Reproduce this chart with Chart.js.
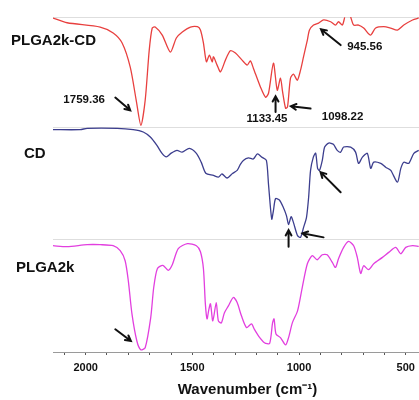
<!doctype html>
<html lang="en">

<head>
  <meta charset="utf-8">
  <title>FTIR PLGA2k-CD</title>
  <script src="https://cdn.jsdelivr.net/npm/chart.js"></script>
  <style>
    html, body { margin: 0; padding: 0; overflow: hidden; background: #fff; }
  </style>
</head>

<body>
  <!-- the figure is cropped on the right, so the canvas is a bit wider than the window -->
  <canvas id="ftirChart" width="442" height="400"></canvas>

  <script>
    // wavenumber (cm-1) and transmittance (% of its band) for each spectrum
    const wnPlgaCd = [2153, 2087, 1932, 1871, 1829, 1791, 1763, 1741, 1721, 1702, 1688, 1674, 1641, 1603, 1575, 1547, 1509, 1476, 1462, 1448, 1434, 1420, 1407, 1401, 1384, 1368, 1345, 1322, 1298, 1267, 1243, 1228, 1214, 1181, 1157, 1143, 1120, 1102, 1087, 1077, 1063, 1054, 1040, 1026, 1008, 993, 979, 961, 951, 932, 908, 885, 852, 829, 815, 797, 786, 772, 758, 744, 721, 697, 665, 641, 603, 571, 539, 509, 468, 439];
    const tPlgaCd = [99.1, 94.8, 90.9, 85.5, 76.4, 54.5, 24.5, 1.8, 24.5, 70, 90, 91, 83.6, 68.2, 81, 86.4, 90.9, 91.2, 88.2, 76.4, 59.4, 65.5, 59.4, 63.9, 56.4, 50.3, 60.9, 69.4, 67.3, 60.9, 56.4, 60.3, 53.6, 36.6, 27.3, 30.9, 58.2, 33.6, 44.5, 32.1, 17.3, 18.5, 44.5, 48.2, 42.7, 51.8, 63.9, 79.1, 88.2, 92.7, 94.5, 97.3, 95.7, 92.7, 95.7, 92.7, 99.7, null, 100, 92.7, 92.7, 90, 83.6, 90, 91.2, 90, 88.2, 92.7, 97.3, 99.1];

    const wnCd = [2153, 2026, 1993, 1852, 1777, 1730, 1697, 1666, 1642, 1622, 1599, 1572, 1548, 1514, 1481, 1458, 1437, 1401, 1378, 1361, 1337, 1312, 1290, 1275, 1261, 1237, 1214, 1195, 1173, 1153, 1143, 1128, 1120, 1110, 1092, 1074, 1059, 1049, 1037, 1026, 1007, 993, 979, 965, 955, 946, 933, 922, 913, 904, 891, 880, 861, 839, 821, 805, 791, 758, 735, 721, 703, 680, 664, 650, 617, 594, 570, 539, 523, 509, 486, 462, 439];
    const tCd = [97.9, 97.9, 99.1, 99.1, 97.9, 95.8, 91.3, 83.8, 76.6, 73.4, 76.8, 79.3, 77.7, 81.1, 76.6, 68.5, 58.8, 56.8, 55.2, 58.1, 54.5, 58.6, 61.3, 66.7, 70.3, 72.5, 71.6, 76.1, 73, 70.3, 48.6, 17.6, 25.2, 36, 34.7, 28.2, 20.7, 12.6, 19.8, 14.4, 2.7, 1.2, 9.9, 19.2, 37.2, 61.3, 73.2, 76.8, 63.1, 61.3, 70.3, 82.3, 85.9, 84.7, 79.3, 77.7, 82.3, 82.3, 77.7, 67.6, 73.2, 76.6, 63.1, 68.7, 67.6, 64.2, 61.3, 50.7, 63.1, 68.7, 67.6, 76.6, 79.3];

    const wnPlga = [2153, 2087, 1993, 1932, 1871, 1838, 1815, 1800, 1783, 1760, 1742, 1721, 1695, 1681, 1664, 1638, 1613, 1594, 1566, 1523, 1481, 1462, 1448, 1439, 1431, 1423, 1415, 1404, 1388, 1378, 1364, 1350, 1331, 1308, 1290, 1270, 1246, 1223, 1209, 1190, 1162, 1138, 1124, 1117, 1108, 1087, 1063, 1049, 1031, 1007, 985, 961, 938, 915, 891, 868, 844, 829, 815, 791, 768, 744, 727, 711, 697, 674, 650, 609, 580, 547, 523, 500, 468, 439];
    const tPlga = [93.8, 92.9, 94.7, 94.7, 93.8, 89.4, 80.5, 62.8, 33.6, 9.7, 2, 3.8, 30.4, 56.9, 73.5, 76.5, 72.1, 77, 91.2, 95.6, 93.8, 88.5, 73.5, 42.5, 29.2, 37.2, 42.5, 27.4, 43.6, 27.4, 25.7, 34.5, 40.7, 48.1, 43.6, 31.9, 21.5, 24.8, 19.9, 14.2, 8.2, 7.5, 25.7, 29.2, 15.9, 12.7, 6.2, 12.7, 25.9, 36.3, 56.9, 77.9, 85, 81.4, 85.8, 85.8, 79, 74.6, 82.3, 92.3, 97.6, 93.8, 83.5, 69.3, 76.1, 72.6, 77.9, 83.5, 87.9, 92.3, 86.7, 92.3, 93.8, 93.2];

    const seriesNames = ["PLGA2k-CD", "CD", "PLGA2k"];
    const tickLabels = [2000, 1500, 1000, 500];

    // peak labels: text, wavenumber, height (y units)
    const peakLabels = [
      ["1759.36", 2007, 251.7],
      ["1133.45", 1150, 232.5],
      ["1098.22", 796, 234],
      ["945.56", 692, 304.3]
    ];
    // arrows: from (wn, y) to (wn, y)
    const arrows = [
      [1861, 253.7, 1791, 241],
      [1110, 239.3, 1110, 255],
      [946, 242.7, 1038, 245],
      [805, 306, 897, 321.7],
      [805, 159.3, 899, 179.3],
      [1049, 105, 1049, 121.5],
      [885, 114.3, 984, 118.3],
      [1861, 22.7, 1788, 11]
    ];

    // vertical range of each stacked trace on the hidden y scale
    const bands = [[224, 334], [113, 224], [0, 113]];
    const colors = ['#e8403f', '#3c3e8e', '#e23fdf'];
    const fontFam = "'Liberation Sans', Arial, sans-serif";

    function punkte(wn, t, band) {
      return wn.map((w, i) => ({
        x: w,
        y: t[i] === null ? null : band[0] + t[i] / 100 * (band[1] - band[0])
      }));
    }

    const spektren = [
      punkte(wnPlgaCd, tPlgaCd, bands[0]),
      punkte(wnCd, tCd, bands[1]),
      punkte(wnPlga, tPlga, bands[2])
    ];

    const rahmen = {
      id: 'rahmen',
      beforeDatasetsDraw(chart) {
        const { ctx, chartArea, scales } = chart;
        ctx.save();
        ctx.strokeStyle = '#dedede';
        ctx.lineWidth = 1;
        [334, 224, 113].forEach(v => {
          const y = Math.round(scales.y.getPixelForValue(v)) + 0.5;
          ctx.beginPath();
          ctx.moveTo(chartArea.left, y);
          ctx.lineTo(chartArea.right, y);
          ctx.stroke();
        });
        ctx.restore();
      },
      afterDraw(chart) {
        const { ctx, scales } = chart;
        const x = scales.x, y = scales.y;
        ctx.save();
        ctx.fillStyle = '#111';
        ctx.textBaseline = 'middle';

        // names of the spectra
        ctx.font = 'bold 15px ' + fontFam;
        ctx.textAlign = 'left';
        ctx.fillText(seriesNames[0], 11, y.getPixelForValue(310.3));
        ctx.fillText(seriesNames[1], 24, y.getPixelForValue(197.7));
        ctx.fillText(seriesNames[2], 16, y.getPixelForValue(84.3));

        // peak positions
        ctx.font = 'bold 11.5px ' + fontFam;
        ctx.textAlign = 'center';
        peakLabels.forEach(p => {
          ctx.fillText(p[0], x.getPixelForValue(p[1]), y.getPixelForValue(p[2]));
        });

        ctx.strokeStyle = '#111';
        ctx.lineWidth = 2;
        ctx.lineCap = 'round';
        arrows.forEach(a => {
          const x1 = x.getPixelForValue(a[0]), y1 = y.getPixelForValue(a[1]);
          const x2 = x.getPixelForValue(a[2]), y2 = y.getPixelForValue(a[3]);
          const ang = Math.atan2(y2 - y1, x2 - x1);
          const len = 6;
          ctx.beginPath();
          ctx.moveTo(x1, y1);
          ctx.lineTo(x2, y2);
          ctx.moveTo(x2 - len * Math.cos(ang - 0.5), y2 - len * Math.sin(ang - 0.5));
          ctx.lineTo(x2, y2);
          ctx.lineTo(x2 - len * Math.cos(ang + 0.5), y2 - len * Math.sin(ang + 0.5));
          ctx.stroke();
        });
        ctx.restore();
      }
    };

    new Chart(document.getElementById('ftirChart'), {
      type: 'line',
      data: {
        datasets: spektren.map((d, i) => ({
          label: seriesNames[i],
          data: d,
          borderColor: colors[i],
          borderWidth: 1.3,
          pointRadius: 0,
          tension: 0.25,
          spanGaps: false
        }))
      },
      options: {
        responsive: false,
        animation: false,
        parsing: false,
        layout: { padding: { left: 53, top: 17, right: 0, bottom: 0 } },
        plugins: { legend: { display: false }, tooltip: { enabled: false } },
        scales: {
          x: {
            type: 'linear',
            reverse: true,
            min: 330,
            max: 2153,
            afterBuildTicks: scale => {
              const t = [];
              for (let v = 500; v <= 2100; v += 100) t.push({ value: v });
              scale.ticks = t;
            },
            ticks: {
              padding: 6,
              autoSkip: false,
              maxRotation: 0,
              minRotation: 0,
              color: '#111',
              font: { family: fontFam, size: 11, weight: 'bold' },
              callback: v => tickLabels.includes(v) ? String(v) : ''
            },
            grid: { drawOnChartArea: false, tickLength: 3, color: '#555' },
            border: { color: '#9a9a9a' },
            title: {
              display: true,
              text: 'Wavenumber (cm⁻¹)',
              color: '#111',
              font: { family: fontFam, size: 15, weight: 'bold', lineHeight: 1.32 },
              padding: { top: 0, bottom: 0 }
            }
          },
          y: { display: false, min: 0, max: 334 }
        }
      },
      plugins: [rahmen]
    });
  </script>
</body>

</html>
